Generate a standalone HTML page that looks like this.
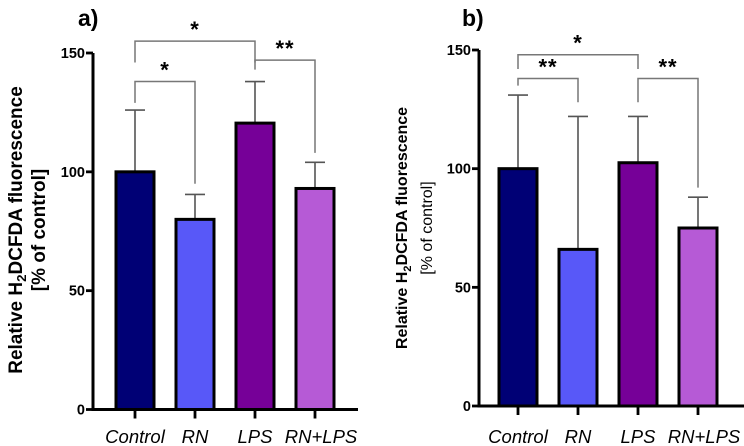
<!DOCTYPE html>
<html><head><meta charset="utf-8"><style>
html,body{margin:0;padding:0;background:#fff;}
svg{display:block;font-family:"Liberation Sans",Arial,sans-serif;}
</style></head><body>
<svg id="chart" width="744" height="446" viewBox="0 0 744 446" xmlns="http://www.w3.org/2000/svg"></svg>
<script>
const categories = ["Control","RN","LPS","RN+LPS"];
const colors = ["#000075","#5858f8","#760098","#b65ad6"];
const valuesA = [100, 80, 120.5, 93];
const errorsA = [126, 90.5, 138, 104];
const valuesB = [100, 66, 102.5, 75];
const errorsB = [131, 122, 122, 88];
const yTicks = [0, 50, 100, 150];
const sigA = [
  {from:0,to:2,label:"*",y:155,l:146,r:146},
  {from:0,to:1,label:"*",y:138,l:129,r:95},
  {from:2,to:3,label:"**",y:147,l:143,r:108}
];
const sigB = [
  {from:0,to:2,label:"*",y:148,l:142,r:142},
  {from:0,to:1,label:"**",y:138,l:135,r:128},
  {from:2,to:3,label:"**",y:138,l:128,r:92}
];
const NS="http://www.w3.org/2000/svg";
const svg=document.getElementById('chart');
function mk(tag,attrs,parent){const e=document.createElementNS(NS,tag);for(const k in attrs)e.setAttribute(k,attrs[k]);(parent||svg).appendChild(e);return e;}

function panel(p){
  const g=mk('g',{});
  
  
  const y=v=>p.y0-(v/150)*(p.y0-p.y150);
  const x=i=>p.x0+i*60;
  categories.forEach((c,i)=>{
    const er=mk('path',{d:`M${x(i)} ${y(p.vals[i])} V${y(p.errs[i])} M${x(i)-10} ${y(p.errs[i])} H${x(i)+10}`,stroke:'#555',"stroke-width":1.6,fill:'none'},g);
    
    
    const b=mk('rect',{x:x(i)-19,y:y(p.vals[i]),width:38,height:y(0)-y(p.vals[i]),fill:colors[i],stroke:'#000',"stroke-width":3},g);
    
    
    const t=mk('path',{d:`M${x(i)} ${y(0)} V${y(0)+9}`,stroke:'#000',"stroke-width":2.8},g);
    
    
    const lb=mk('text',{x:x(i)+(i==3?6:0),y:443,"text-anchor":"middle","font-size":18.5,"font-style":"italic",fill:'#000'},g);
    lb.textContent=c;
    
    
  });
  const ax=mk('path',{d:`M${p.ax} ${y(150)} V${y(0)} H${p.axEnd}`,stroke:'#000',"stroke-width":3,fill:'none'},g);
  
  
  yTicks.forEach(v=>{
    const t=mk('path',{d:`M${p.ax-7} ${y(v)} H${p.ax}`,stroke:'#000',"stroke-width":2.8},g);
    
    
    const l=mk('text',{x:p.ax-8,y:y(v)+5,"text-anchor":"end","font-size":14.5,"font-weight":"bold"},g);
    l.textContent=v;
    
    
  });
  p.sig.forEach(s=>{
    const x1=x(s.from),x2=x(s.to);
    const br=mk('path',{d:`M${x1} ${y(s.l)} V${y(s.y)} H${x2} V${y(s.r)}`,stroke:'#777',"stroke-width":1.5,fill:'none'},g);
    
    
    const st=mk('text',{x:(x1+x2)/2,y:y(s.y)-4,"text-anchor":"middle","font-size":22,"font-weight":"bold","letter-spacing":1},g);
    st.textContent=s.label;
    
    
  });
  const pl=mk('text',{x:p.lx,y:26,"font-size":23,"font-weight":"bold"},g);
  pl.textContent=p.label;
  
  
  const yt=mk('text',{transform:`translate(${p.t1x},${p.tcy}) rotate(-90)`,"text-anchor":"middle","font-size":p.tfs,"font-weight":"bold"},g);
  yt.innerHTML='Relative H<tspan font-size="'+(p.tfs*0.7)+'" dy="4">2</tspan><tspan dy="-4">DCFDA fluorescence</tspan>';
  
  
  const yt2=mk('text',{transform:`translate(${p.t2x},${p.tcy}) rotate(-90)`,"text-anchor":"middle","font-size":p.tfs,"font-weight":p.t2w},g);
  yt2.textContent='[% of control]';
  
  
}
panel({name:'panel-a',x0:135,ax:93,axEnd:358,y0:409.5,y150:53,vals:valuesA,errs:errorsA,sig:sigA,label:'a)',lx:78,t1x:22,t2x:45,tcy:230,tfs:19,t2w:'bold'});
panel({name:'panel-b',x0:518,ax:479,axEnd:744,y0:406,y150:50,vals:valuesB,errs:errorsB,sig:sigB,label:'b)',lx:462,t1x:407,t2x:432,tcy:228,tfs:16,t2w:'normal'});
</script>
</body></html>
